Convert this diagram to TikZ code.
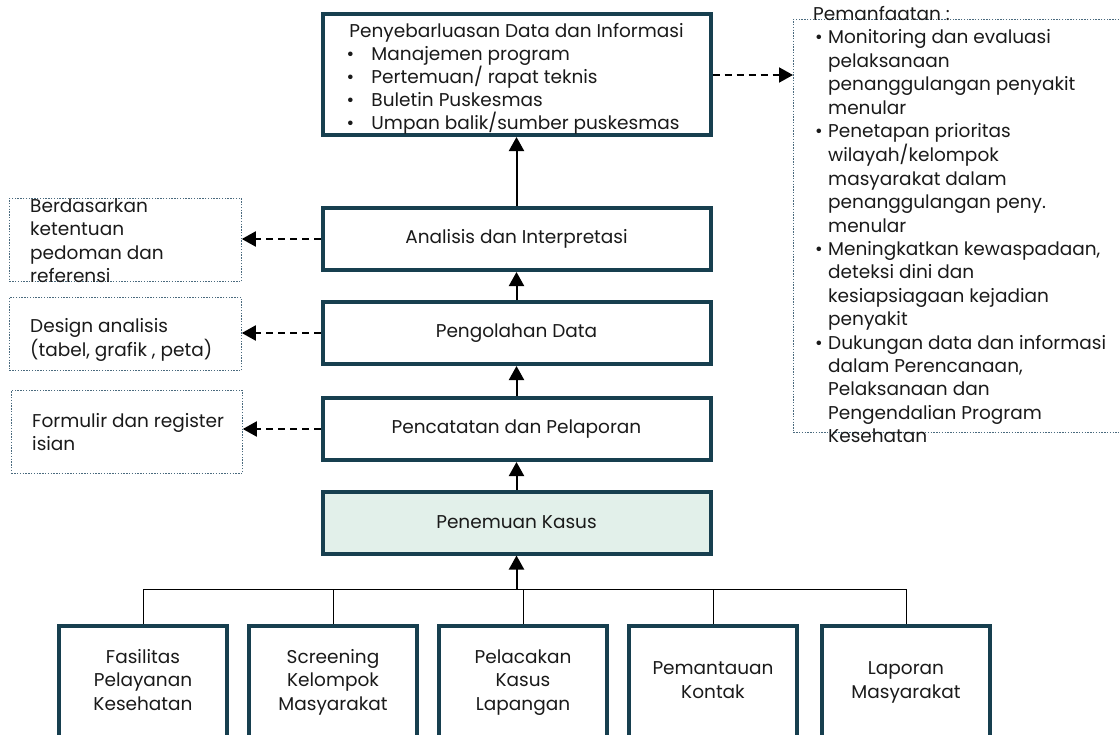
\documentclass[tikz,border=0pt]{standalone}
\usepackage{fontspec}
\setmainfont{Poppins}
\usetikzlibrary{arrows.meta}
\definecolor{teal}{HTML}{173F4F}
\definecolor{mint}{HTML}{E2F0EA}
\definecolor{dotc}{HTML}{4A6A7E}
\definecolor{ink}{HTML}{1A1A1A}
\newcommand{\fs}{\fontsize{18.5}{23.4}\selectfont}
\newcommand{\tl}[1]{{\fs\begin{tabular}[t]{@{}l@{}}#1\end{tabular}}}
\newcommand{\tc}[1]{{\fs\begin{tabular}{@{}c@{}}#1\end{tabular}}}
\newcommand{\bitem}[1]{\hbox{\makebox[25pt][l]{\textbullet}#1}}
\tikzset{
  mainbox/.style={draw=teal, line width=4pt, fill=white, minimum width=388pt, minimum height=62pt, inner sep=0pt, text=ink, font=\fs},
  botbox/.style={draw=teal, line width=4pt, fill=white, minimum width=168pt, minimum height=140pt, anchor=north, inner sep=0pt},
  dotbox/.style={draw=dotc, line width=0.8pt, dash pattern=on 1.4pt off 1.4pt, anchor=north west, inner sep=0pt},
  txt/.style={anchor=base west, inner sep=0pt, text=ink},
  uparrow/.style={draw=black, line width=2pt, -{Triangle[length=14pt,width=15pt]}},
  dasharrow/.style={draw=black, line width=2pt, dash pattern=on 7pt off 5pt, -{Triangle[length=14pt,width=15pt]}},
  thinline/.style={draw=black, line width=1pt}
}
\begin{document}
\begin{tikzpicture}[x=1pt,y=-1pt]
\useasboundingbox (0,0) rectangle (1119,734);
\clip (0,0) rectangle (1119,734);
\fill[white] (0,0) rectangle (1119,734);

% top box
\node[mainbox, minimum height=121pt] (top) at (516.5,74.5)
  {\fs\raisebox{-4pt}[\height][\depth]{\vbox{\hsize=340pt \baselineskip=23pt \lineskiplimit=-50pt \parindent=0pt
   \hbox to \hsize{\hss Penyebarluasan Data dan Informasi\hss}
   \bitem{Manajemen program}
   \bitem{Pertemuan/ rapat teknis}
   \bitem{Buletin Puskesmas}
   \bitem{Umpan balik/sumber puskesmas}}}};

\node[mainbox] (ana) at (516.5,239) {Analisis dan Interpretasi};
\node[mainbox] (olah) at (516.5,333) {Pengolahan Data};
\node[mainbox] (catat) at (516.5,429) {Pencatatan dan Pelaporan};
\node[mainbox, fill=mint] (temu) at (516.5,522.5) {Penemuan Kasus};

% bottom boxes
\node[botbox] (b1) at (143,624) {};
\node[botbox] (b2) at (333,624) {};
\node[botbox] (b3) at (523,624) {};
\node[botbox] (b4) at (713,624) {};
\node[botbox] (b5) at (906,624) {};
\node[text=ink, inner sep=0pt] (t1) at (143,682) {\tc{Fasilitas\\Pelayanan\\Kesehatan}};
\node[text=ink, inner sep=0pt] (t2) at (333,682) {\tc{Screening\\Kelompok\\Masyarakat}};
\node[text=ink, inner sep=0pt] (t3) at (523,682) {\tc{Pelacakan\\Kasus\\Lapangan}};
\node[text=ink, inner sep=0pt] (t4) at (713,682) {\tc{Pemantauan\\Kontak}};
\node[text=ink, inner sep=0pt] (t5) at (906,682) {\tc{Laporan\\Masyarakat}};

% connectors bottom
\coordinate (hub) at (516.5,589);
\draw[thinline] (b1.north |- hub) -- (b5.north |- hub);
\foreach \b in {b1,b2,b3,b4,b5} { \draw[thinline] (\b.north |- hub) -- (\b.north); }
\draw[uparrow] (hub) -- (temu.south);
\draw[uparrow] (temu.north) -- (catat.south);
\draw[uparrow] (catat.north) -- (olah.south);
\draw[uparrow] (olah.north) -- (ana.south);
\draw[uparrow] (ana.north) -- (top.south);

% left dotted boxes
\node[dotbox, minimum width=232pt, minimum height=83pt] (l1) at (9,198) {};
\node[dotbox, minimum width=232pt, minimum height=73pt] (l2) at (9,297) {};
\node[dotbox, minimum width=231pt, minimum height=83pt] (l3) at (11,390) {};
\node[txt] (l1t) at (30,212.5) {\tl{Berdasarkan\\ketentuan\\pedoman dan\\referensi}};
\node[txt] (l2t) at (30,332.5) {\tl{Design analisis\\(tabel, grafik , peta)}};
\node[txt] (l3t) at (32,427.5) {\tl{Formulir dan register\\isian}};

\draw[dasharrow] (ana.west) -- (l1.east |- ana.west);
\draw[dasharrow] (olah.west) -- (l2.east |- olah.west);
\draw[dasharrow] (catat.west) -- (l3.east |- catat.west);

% right dotted box
\node[dotbox, minimum width=340pt, minimum height=413pt] (r) at (793,19) {};
\draw[dasharrow] (top.east |- 0,75) -- (r.west |- 0,75);
\node[txt] (rt) at (813,20.5) {\fs\begin{tabular}[t]{@{}p{15pt}@{}l@{}}
 \multicolumn{2}{@{}l@{}}{Pemanfaatan :}\\
 \hspace{2pt}\textbullet & Monitoring dan evaluasi\\
  & pelaksanaan\\
  & penanggulangan penyakit\\
  & menular\\
 \hspace{2pt}\textbullet & Penetapan prioritas\\
  & wilayah/kelompok\\
  & masyarakat dalam\\
  & penanggulangan peny.\\
  & menular\\
 \hspace{2pt}\textbullet & Meningkatkan kewaspadaan,\\
  & deteksi dini dan\\
  & kesiapsiagaan kejadian\\
  & penyakit\\
 \hspace{2pt}\textbullet & Dukungan data dan informasi\\
  & dalam Perencanaan,\\
  & Pelaksanaan dan\\
  & Pengendalian Program\\
  & Kesehatan
 \end{tabular}};
\end{tikzpicture}
\end{document}
